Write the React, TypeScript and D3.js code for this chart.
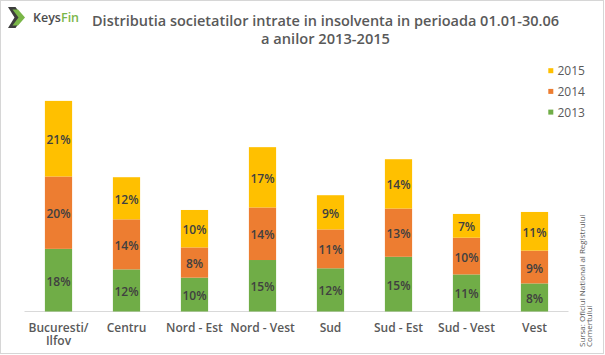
import React from "react";
import * as d3 from "d3";

const categories = ["Bucuresti/\nIlfov", "Centru", "Nord - Est", "Nord - Vest", "Sud", "Sud - Est", "Sud - Vest", "Vest"];
const years = ["2013", "2014", "2015"];
const values2013 = [17.4, 11.7, 9.4, 14.3, 12.0, 15.2, 10.3, 7.8];
const values2014 = [20.1, 13.9, 8.4, 14.6, 10.8, 13.4, 10.2, 9.1];
const values2015 = [21.0, 11.7, 10.4, 16.75, 9.5, 13.7, 6.6, 10.75];
const labels2013 = ["18%", "12%", "10%", "15%", "12%", "15%", "11%", "8%"];
const labels2014 = ["20%", "14%", "8%", "14%", "11%", "13%", "10%", "9%"];
const labels2015 = ["21%", "12%", "10%", "17%", "9%", "14%", "7%", "11%"];
const colors = ["#70AD47", "#ED7D31", "#FFC000"];
const titleLines = ["Distributia societatilor intrate in insolventa in perioada 01.01-30.06", "a anilor 2013-2015"];
const sourceLines = ["Sursa: Oficiul National al Registrului", "Comertului"];

const W = 605, H = 355;
const baseY = 311.5;

export default function App() {
  const seriesVals = [values2013, values2014, values2015];
  const seriesLabels = [labels2013, labels2014, labels2015];
  const table = categories.map((c, i) => {
    const row: any = { cat: c };
    years.forEach((y, k) => (row[y] = seriesVals[k][i]));
    return row;
  });
  const stack = d3.stack<any>().keys(years)(table);
  const x = d3.scaleBand<string>().domain(categories).range([24.5, 568.5]).paddingInner(0.6).paddingOuter(0.3);
  const y = d3.scaleLinear().domain([0, 60]).range([baseY, baseY - 216]);
  const font = "'Open Sans', 'Noto Sans', sans-serif";

  return (
    <svg width={W} height={H} style={{ position: "absolute", left: 0, top: 0, background: "#fff" }} fontFamily={font}>
      <rect x={0.5} y={0.5} width={603} height={353} fill="#fff" stroke="#d6d6d6" />
      {/* logo */}
      <path d="M8,7 L15.5,7 L23,17.5 L15.5,28 L8,28 L14.5,17.5 Z" fill="#3d3d3d" />
      <path d="M12.5,9.5 L18,9.5 L25,17.5 L18,25.5 L12.5,25.5 L18.5,17.5 Z" fill="#7ab648" />
      <text x={33} y={21.5} fontSize={12.5} fontWeight={600} fill="#4d4d4d">
        Keys<tspan fill="#7ab648">Fin</tspan>
      </text>
      {/* title */}
      <text x={325.5} y={26} textAnchor="middle" fontSize={14} fontWeight={600} fill="#595959" textLength={467} lengthAdjust="spacingAndGlyphs">
        {titleLines[0]}
      </text>
      <text x={325.5} y={44} textAnchor="middle" fontSize={14} fontWeight={600} fill="#595959" textLength={129} lengthAdjust="spacingAndGlyphs">
        {titleLines[1]}
      </text>
      {/* legend */}
      {years.slice().reverse().map((yr, i) => {
        const k = years.length - 1 - i;
        const cy = 70.7 + i * 20.7;
        return (
          <g key={yr}>
            <rect x={548.3} y={cy - 2.5} width={5} height={5} fill={colors[k]} />
            <text x={557.5} y={cy} dominantBaseline="central" fontSize={12} fill="#595959">{yr}</text>
          </g>
        );
      })}
      {/* axis */}
      <line x1={24.5} x2={568.5} y1={baseY} y2={baseY} stroke="#d9d9d9" strokeWidth={1} />
      {/* bars */}
      {stack.map((s, k) => (
        <g key={s.key}>
          {s.map((d, i) => {
            const x0 = x(categories[i])!;
            const y0 = y(d[1]);
            const h = y(d[0]) - y(d[1]);
            return (
              <g key={i}>
                <rect x={x0} y={y0} width={x.bandwidth()} height={h} fill={colors[k]} />
                <text x={x0 + x.bandwidth() / 2} y={y0 + h / 2 + 1} textAnchor="middle" dominantBaseline="central" fontSize={12} fontWeight={600} fill="#404040">
                  {seriesLabels[k][i]}
                </text>
              </g>
            );
          })}
        </g>
      ))}
      {/* category labels */}
      {categories.map((c) => (
        <text key={c} x={x(c)! + x.bandwidth() / 2} y={331.5} textAnchor="middle" fontSize={12} fontWeight={600} fill="#595959">
          {c.split("\n").map((ln, j) => (
            <tspan key={j} x={x(c)! + x.bandwidth() / 2} dy={j === 0 ? 0 : 13.5}>{ln}</tspan>
          ))}
        </text>
      ))}
      {/* source */}
      <text transform="translate(584.5,347) rotate(-90)" fontSize={8} fill="#595959">
        <tspan x={0} y={0}>{sourceLines[0]}</tspan>
        <tspan x={0} y={7}>{sourceLines[1]}</tspan>
      </text>
    </svg>
  );
}
